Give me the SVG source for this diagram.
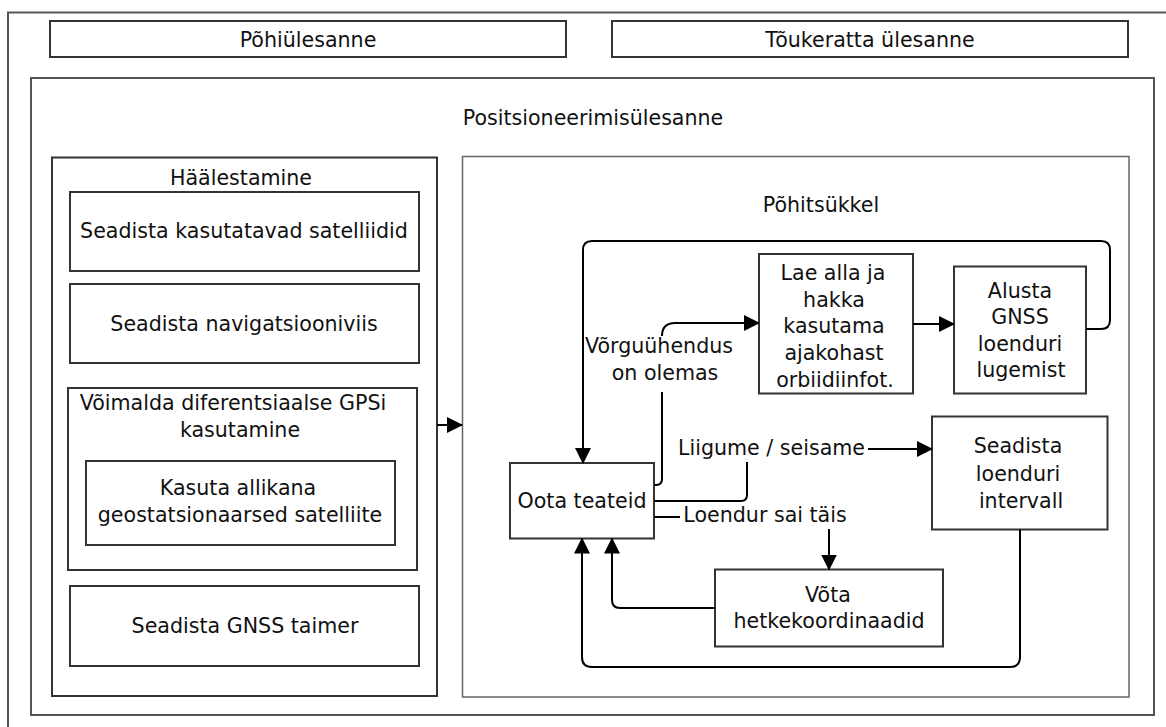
<svg xmlns="http://www.w3.org/2000/svg" width="1166" height="727" viewBox="0 0 1166 727">
<style>
text{font-family:"DejaVu Sans","Liberation Sans",sans-serif;font-size:20.6px;fill:#111;text-anchor:middle}
.box{fill:#fff;stroke:#333;stroke-width:2}
.frame{fill:none;stroke:#555;stroke-width:2}
.inner{fill:#fff;stroke:#666;stroke-width:1.5}
.c{fill:none;stroke:#000;stroke-width:2}
</style>
<defs>
<marker id="arr" markerUnits="userSpaceOnUse" markerWidth="16" markerHeight="16" refX="15" refY="8" orient="auto">
<path d="M0,0 L16,8 L0,16 z" fill="#000"/>
</marker>
</defs>
<rect width="1166" height="727" fill="#fff"/>
<g id="outer"><rect class="frame" x="8" y="12.5" width="1170" height="730"/></g>
<g id="pohiulesanne"><rect class="box" x="50" y="21" width="516" height="36"/><text x="308" y="46.5">Põhiülesanne</text></g>
<g id="toukeratta"><rect class="box" x="612" y="21" width="516" height="36"/><text x="870" y="46.5">Tõukeratta ülesanne</text></g>
<g id="positsioneerimine"><rect class="frame" x="31" y="78" width="1123" height="637"/><text x="593" y="125">Positsioneerimisülesanne</text></g>
<g id="haalestamine"><rect class="box" x="52" y="157.5" width="385" height="538.5"/><text x="241" y="185">Häälestamine</text></g>
<g id="satelliidid"><rect class="box" x="70" y="192" width="349" height="79"/><text x="244" y="238">Seadista kasutatavad satelliidid</text></g>
<g id="navigatsiooniviis"><rect class="box" x="70" y="284" width="349" height="79"/><text x="244" y="330.5">Seadista navigatsiooniviis</text></g>
<g id="dgps"><rect class="box" x="68" y="388" width="349" height="182"/><text x="233" y="409.5">Võimalda diferentsiaalse GPSi</text><text x="240" y="437">kasutamine</text></g>
<g id="geostats"><rect class="box" x="86" y="461" width="309" height="84"/><text x="238" y="495">Kasuta allikana</text><text x="240" y="521.5">geostatsionaarsed satelliite</text></g>
<g id="taimer"><rect class="box" x="70" y="586" width="349" height="80"/><text x="245" y="633">Seadista GNSS taimer</text></g>
<g id="pohitsukkel"><rect class="inner" x="462.5" y="156.5" width="666.5" height="540.5"/><text x="821" y="211.5">Põhitsükkel</text></g>
<g id="lae"><rect class="box" x="759" y="254" width="154" height="139.5"/><text x="833" y="279.5">Lae alla ja</text><text x="834" y="306.5">hakka</text><text x="834" y="333">kasutama</text><text x="834" y="359.5">ajakohast</text><text x="835" y="386.5">orbiidiinfot.</text></g>
<g id="alusta"><rect class="box" x="954" y="266.5" width="132" height="127"/><text x="1020" y="297.5">Alusta</text><text x="1020" y="324">GNSS</text><text x="1020" y="351">loenduri</text><text x="1021" y="376.5">lugemist</text></g>
<g id="intervall"><rect class="box" x="932" y="416.5" width="175.5" height="113"/><text x="1018" y="453">Seadista</text><text x="1018" y="480.5">loenduri</text><text x="1021" y="508">intervall</text></g>
<g id="oota"><rect class="box" x="510" y="463" width="144" height="75.5"/><text x="582" y="507.5">Oota teateid</text></g>
<g id="vota"><rect class="box" x="715" y="569.5" width="228" height="77"/><text x="828" y="601.5">Võta</text><text x="829" y="628">hetkekoordinaadid</text></g>
<g id="connectors">
<path class="c" d="M437,425 L462,425" marker-end="url(#arr)"/>
<path class="c" d="M1086,329 L1101,329 Q1110,329 1110,320 L1110,250 Q1110,241 1101,241 L592,241 Q583,241 583,250 L583,463" marker-end="url(#arr)"/>
<path class="c" d="M654,485 L656,485 Q662,485 662,479 L662,392"/>
<path class="c" d="M662,336 Q662,323 675,323 L759,323" marker-end="url(#arr)"/>
<path class="c" d="M913,324 L954,324" marker-end="url(#arr)"/>
<path class="c" d="M654,501 L741,501 Q747,501 747,495 L747,462"/>
<path class="c" d="M868,449 L932,449" marker-end="url(#arr)"/>
<path class="c" d="M654,517 L680,517"/>
<path class="c" d="M829,529 L829,569.5" marker-end="url(#arr)"/>
<path class="c" d="M715,608 L620,608 Q612,608 612,600 L612,538.5" marker-end="url(#arr)"/>
<path class="c" d="M1020,529.5 L1020,657 Q1020,667 1010,667 L592,667 Q582,667 582,657 L582,538.5" marker-end="url(#arr)"/>
<text x="659" y="353">Võrguühendus</text>
<text x="665" y="380">on olemas</text>
<text x="771.5" y="455">Liigume / seisame</text>
<text x="765" y="521.5">Loendur sai täis</text>
</g>
</svg>
